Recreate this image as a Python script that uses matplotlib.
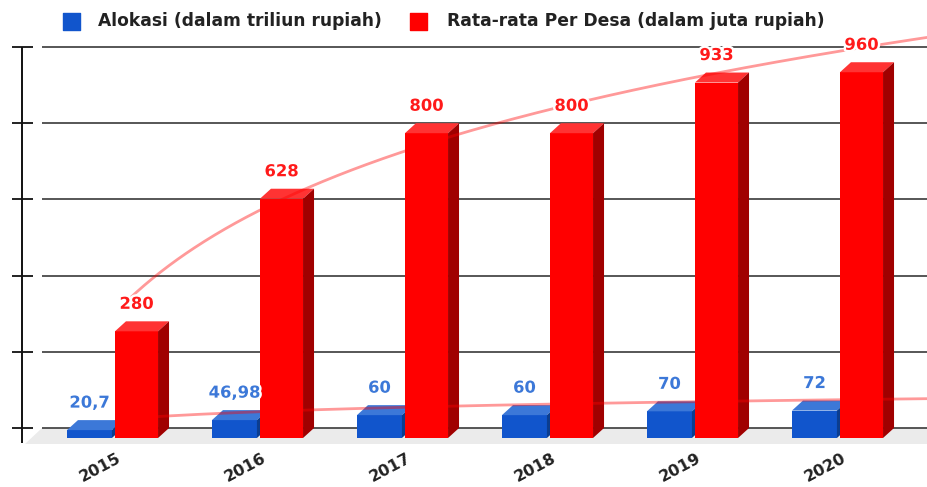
import numpy as np
import matplotlib
matplotlib.use('Agg')
import matplotlib.pyplot as plt
from matplotlib.patches import Polygon, Rectangle
import matplotlib.patheffects as pe

years = ['2015', '2016', '2017', '2018', '2019', '2020']
alokasi = [20.7, 46.98, 60, 60, 70, 72]
alokasi_text = ['20,7', '46,98', '60', '60', '70', '72']
rata_rata = [280, 628, 800, 800, 933, 960]
rata_rata_text = ['280', '628', '800', '800', '933', '960']
series_names = ['Alokasi (dalam triliun rupiah)', 'Rata-rata Per Desa (dalam juta rupiah)']
y_ticks = [0, 200, 400, 600, 800, 1000]

W, H = 927, 487
fig = plt.figure(figsize=(W / 100, H / 100), dpi=100)
ax = fig.add_axes([0, 0, 1, 1])
X0, STEP = 112.5, 145.0     # layout: pixel x of first category, pixel spacing
BASE, SCALE = 438.0, 0.381  # layout: pixel y of zero line, pixels per unit
ax.set_xlim(-X0 / STEP, (W - X0) / STEP)
ax.set_ylim(-(H - BASE) / SCALE, BASE / SCALE)
ax.axis('off')


def fx(px):
    return (px - X0) / STEP


def fy(py):
    return (BASE - py) / SCALE


DX = 11 / STEP
DY = 10 / SCALE

# floor
ax.add_patch(Polygon([(fx(25), fy(444)), (fx(42), fy(428)), (fx(W + 20), fy(428)),
                      (fx(W + 20), fy(444))], closed=True, fc='#ebebeb', ec='none', zorder=0))
# grid + axis
gy = [t + DY for t in y_ticks]
ax.hlines(gy, fx(42), fx(W + 5), colors='#3a3a3a', lw=1.2, zorder=1)
ax.hlines(gy, fx(12), fx(33), colors='#111111', lw=1.3, zorder=1)
ax.vlines(fx(22), fy(443), y_ticks[-1] + DY, colors='#111111', lw=1.4, zorder=1)

xi = np.arange(len(years))


def bar3d(xs, w, vals, front, top, side, z):
    ax.bar(xs, vals, width=w, align='edge', color=front, edgecolor='none', zorder=z)
    for xl, v in zip(xs, vals):
        ax.add_patch(Polygon([(xl, v), (xl + DX, v + DY), (xl + w + DX, v + DY), (xl + w, v)],
                             closed=True, fc=top, ec='none', zorder=z))
        ax.add_patch(Polygon([(xl + w, 0), (xl + w + DX, DY), (xl + w + DX, v + DY), (xl + w, v)],
                             closed=True, fc=side, ec='none', zorder=z))


BW_B, BW_R = 0.31, 0.297
bx = xi - 0.314
rx = xi + 0.017
bar3d(bx, BW_B, alokasi, '#1155cc', '#3c78d8', '#0b3d8f', 3)
bar3d(rx, BW_R, rata_rata, '#ff0000', '#ff3333', '#a00000', 3.5)

# logarithmic trendlines
t = np.linspace(0, fx(W) + 0.1, 400)
for vals in (alokasi, rata_rata):
    b, a = np.polyfit(np.log(xi + 1), vals, 1)
    ax.plot(t + DX, a + b * np.log(t + 1) + DY, color='red', alpha=0.4, lw=2, zorder=5)

halo = [pe.withStroke(linewidth=3.5, foreground='white')]
off = 27 / SCALE
for i in xi:
    ax.text(bx[i] + BW_B / 2, alokasi[i] + off, alokasi_text[i], color='#3c78d8', ha='center',
            va='center', fontsize=11.8, fontweight='bold', zorder=6, path_effects=halo)
    ax.text(rx[i] + BW_R / 2, rata_rata[i] + off, rata_rata_text[i], color='#ff1a1a', ha='center',
            va='center', fontsize=11.8, fontweight='bold', zorder=6, path_effects=halo)
    ax.text(i - 0.085, fy(468), years[i], rotation=28, ha='center', va='center',
            fontsize=11.5, fontweight='bold', color='#222222')

# legend
for (sx, tx), name, col in zip([(63, 98), (410, 447)], series_names, ['#1155cc', '#ff0000']):
    ax.add_patch(Rectangle((fx(sx), fy(30)), 17 / STEP, 17 / SCALE, fc=col, ec=col, lw=1,
                           joinstyle='round', zorder=6))
    ax.text(fx(tx), fy(21), name, ha='left', va='center', fontsize=12.3, fontweight='bold',
            color='#222222')

fig.savefig('out.png', dpi=100)
